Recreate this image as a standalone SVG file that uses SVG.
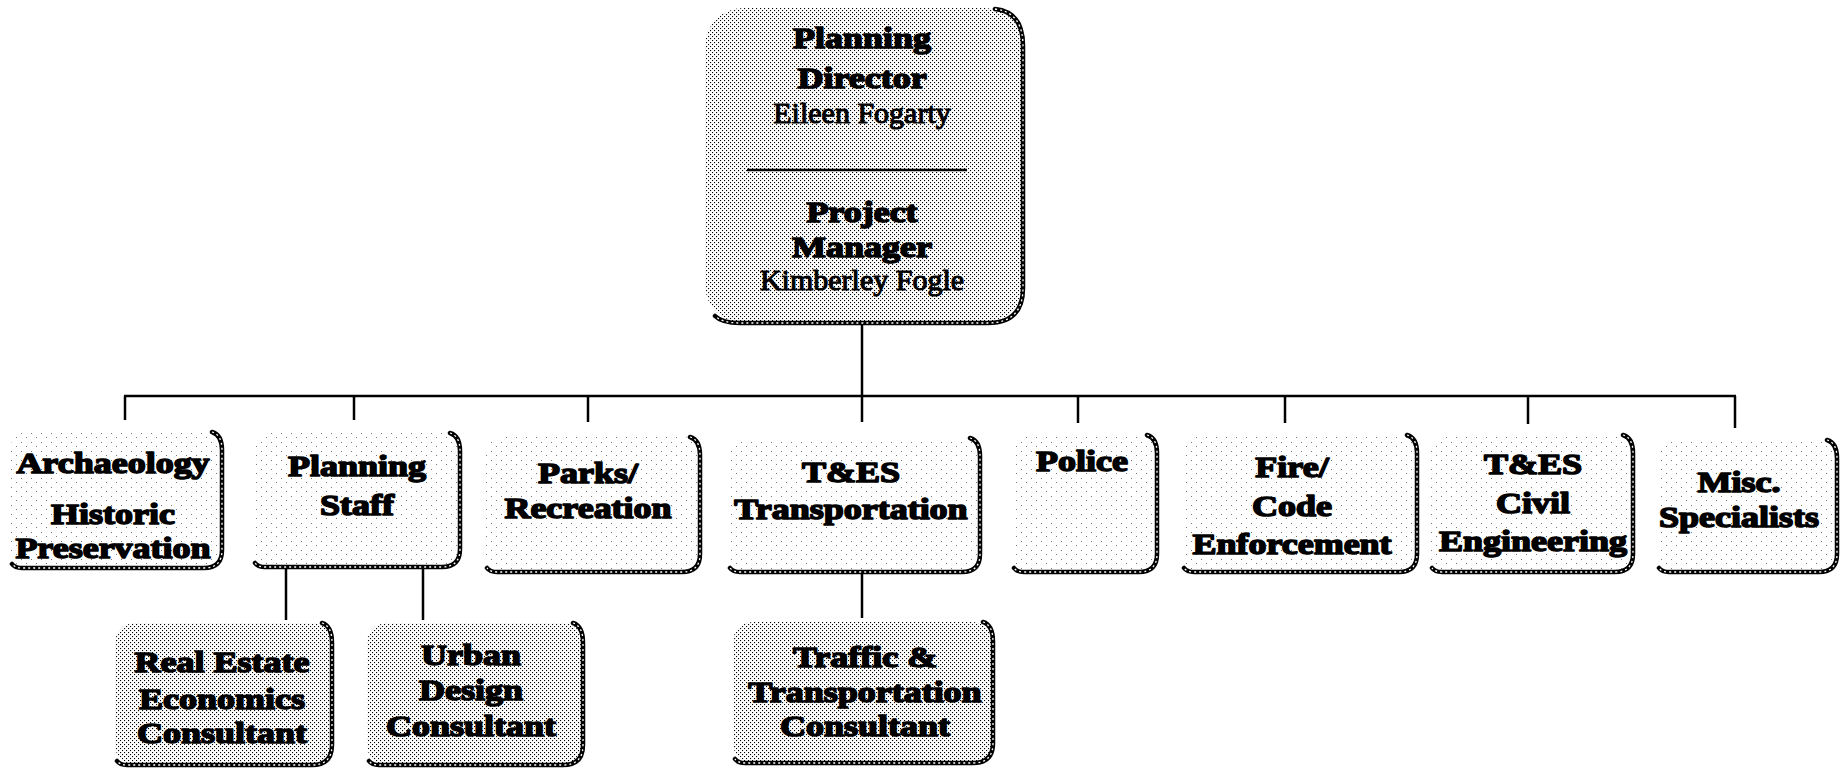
<svg xmlns="http://www.w3.org/2000/svg" width="1843" height="770" viewBox="0 0 1843 770">
<defs>
<pattern id="dense" width="4" height="4" patternUnits="userSpaceOnUse"><rect width="4" height="4" fill="#fff"/><rect x="0" y="0" width="1.1" height="1.1" fill="#000"/><rect x="2" y="2" width="1.1" height="1.1" fill="#000"/></pattern>
<pattern id="sparse" width="10" height="9" patternUnits="userSpaceOnUse"><rect width="10" height="9" fill="#fff"/><rect x="1" y="1" width="1" height="1" fill="#777"/><rect x="6" y="5" width="1" height="1" fill="#777"/></pattern>
<style>
.fd{fill:url(#dense)}
.fs{fill:url(#sparse)}
.sh{fill:none;stroke:#000;stroke-width:4.5;stroke-linecap:round}
.shw{fill:none;stroke:#fff;stroke-width:1.3;stroke-dasharray:2 3}
.c{fill:none;stroke:#000;stroke-width:2.5}
.b{font-family:"Liberation Serif","Times New Roman",serif;font-weight:bold;font-size:30px;text-anchor:middle;fill:#000;stroke:#000;stroke-width:1.6;stroke-linejoin:round}
.r{font-family:"Liberation Serif","Times New Roman",serif;font-size:30px;text-anchor:middle;fill:#000;stroke:#000;stroke-width:1.1;stroke-linejoin:round}
</style>
</defs>
<rect width="1843" height="770" fill="#fff"/>

<g id="connectors">
<line class="c" x1="862" y1="323" x2="862" y2="422"/>
<line class="c" x1="124" y1="396" x2="1736" y2="396"/>
<line class="c" x1="125" y1="396" x2="125" y2="420"/>
<line class="c" x1="354" y1="396" x2="354" y2="420"/>
<line class="c" x1="588" y1="396" x2="588" y2="422"/>
<line class="c" x1="1078" y1="396" x2="1078" y2="423"/>
<line class="c" x1="1285" y1="396" x2="1285" y2="423"/>
<line class="c" x1="1528" y1="396" x2="1528" y2="424"/>
<line class="c" x1="1735" y1="396" x2="1735" y2="428"/>
<line class="c" x1="286" y1="567" x2="286" y2="620"/>
<line class="c" x1="423" y1="567" x2="423" y2="620"/>
<line class="c" x1="862" y1="572" x2="862" y2="618"/>
</g>

<g id="director">
<rect class="fd" x="705" y="8" width="318" height="315" rx="38"/>
<path class="sh" d="M995 9 Q1023 12 1023 46 L1023 288 Q1023 323 988 323 L740 323 Q722 323 715 316"/>
<path class="shw" d="M995 9 Q1023 12 1023 46 L1023 288 Q1023 323 988 323 L740 323 Q722 323 715 316"/>
<g transform="translate(862 0) scale(1.2 1)">
<text class="b" x="0" y="48">Planning</text>
<text class="b" x="0" y="88">Director</text>
<text class="b" x="0" y="222">Project</text>
<text class="b" x="0" y="257">Manager</text>
</g>
<text class="r" x="862" y="123">Eileen Fogarty</text>
<line x1="747" y1="170" x2="967" y2="170" stroke="#000" stroke-width="2.5"/>
<text class="r" x="862" y="290">Kimberley Fogle</text>
</g>

<g id="archaeology">
<rect class="fs" x="10" y="432" width="212" height="136" rx="18"/>
<path class="sh" d="M212 432 Q222 435 222 450 L222 550 Q222 568 204 568 L22 568 Q15 568 12 564"/>
<path class="shw" d="M212 432 Q222 435 222 450 L222 550 Q222 568 204 568 L22 568 Q15 568 12 564"/>
<g transform="translate(113 0) scale(1.2 1)">
<text class="b" x="0" y="473">Archaeology</text>
<text class="b" x="0" y="524">Historic</text>
<text class="b" x="0" y="558">Preservation</text>
</g>
</g>

<g id="planning-staff">
<rect class="fs" x="253" y="433" width="207" height="134" rx="18"/>
<path class="sh" d="M450 433 Q460 436 460 451 L460 549 Q460 567 442 567 L265 567 Q258 567 255 563"/>
<path class="shw" d="M450 433 Q460 436 460 451 L460 549 Q460 567 442 567 L265 567 Q258 567 255 563"/>
<g transform="translate(357 0) scale(1.2 1)">
<text class="b" x="0" y="476">Planning</text>
<text class="b" x="0" y="515">Staff</text>
</g>
</g>

<g id="parks">
<rect class="fs" x="485" y="437" width="215" height="135" rx="18"/>
<path class="sh" d="M690 437 Q700 440 700 455 L700 554 Q700 572 682 572 L497 572 Q490 572 487 568"/>
<path class="shw" d="M690 437 Q700 440 700 455 L700 554 Q700 572 682 572 L497 572 Q490 572 487 568"/>
<g transform="translate(588 0) scale(1.2 1)">
<text class="b" x="0" y="483">Parks/</text>
<text class="b" x="0" y="518">Recreation</text>
</g>
</g>

<g id="tes-transportation">
<rect class="fs" x="728" y="438" width="252" height="134" rx="18"/>
<path class="sh" d="M970 438 Q980 441 980 456 L980 554 Q980 572 962 572 L740 572 Q733 572 730 568"/>
<path class="shw" d="M970 438 Q980 441 980 456 L980 554 Q980 572 962 572 L740 572 Q733 572 730 568"/>
<g transform="translate(851 0) scale(1.2 1)">
<text class="b" x="0" y="482">T&amp;ES</text>
<text class="b" x="0" y="519">Transportation</text>
</g>
</g>

<g id="police">
<rect class="fs" x="1012" y="435" width="145" height="137" rx="18"/>
<path class="sh" d="M1147 435 Q1157 438 1157 453 L1157 554 Q1157 572 1139 572 L1024 572 Q1017 572 1014 568"/>
<path class="shw" d="M1147 435 Q1157 438 1157 453 L1157 554 Q1157 572 1139 572 L1024 572 Q1017 572 1014 568"/>
<g transform="translate(1082 0) scale(1.2 1)">
<text class="b" x="0" y="471">Police</text>
</g>
</g>

<g id="fire">
<rect class="fs" x="1182" y="435" width="235" height="137" rx="18"/>
<path class="sh" d="M1407 435 Q1417 438 1417 453 L1417 554 Q1417 572 1399 572 L1194 572 Q1187 572 1184 568"/>
<path class="shw" d="M1407 435 Q1417 438 1417 453 L1417 554 Q1417 572 1399 572 L1194 572 Q1187 572 1184 568"/>
<g transform="translate(1292 0) scale(1.2 1)">
<text class="b" x="0" y="477">Fire/</text>
<text class="b" x="0" y="516">Code</text>
<text class="b" x="0" y="554">Enforcement</text>
</g>
</g>

<g id="tes-civil">
<rect class="fs" x="1430" y="435" width="203" height="137" rx="18"/>
<path class="sh" d="M1623 435 Q1633 438 1633 453 L1633 554 Q1633 572 1615 572 L1442 572 Q1435 572 1432 568"/>
<path class="shw" d="M1623 435 Q1633 438 1633 453 L1633 554 Q1633 572 1615 572 L1442 572 Q1435 572 1432 568"/>
<g transform="translate(1533 0) scale(1.2 1)">
<text class="b" x="0" y="474">T&amp;ES</text>
<text class="b" x="0" y="513">Civil</text>
<text class="b" x="0" y="551">Engineering</text>
</g>
</g>

<g id="misc">
<rect class="fs" x="1657" y="440" width="180" height="132" rx="18"/>
<path class="sh" d="M1827 440 Q1837 443 1837 458 L1837 554 Q1837 572 1819 572 L1669 572 Q1662 572 1659 568"/>
<path class="shw" d="M1827 440 Q1837 443 1837 458 L1837 554 Q1837 572 1819 572 L1669 572 Q1662 572 1659 568"/>
<g transform="translate(1739 0) scale(1.2 1)">
<text class="b" x="0" y="492">Misc.</text>
<text class="b" x="0" y="527">Specialists</text>
</g>
</g>

<g id="real-estate">
<rect class="fd" x="115" y="623" width="217" height="142" rx="20"/>
<path class="sh" d="M322 623 Q332 626 332 643 L332 745 Q332 765 312 765 L127 765 Q120 765 117 761"/>
<path class="shw" d="M322 623 Q332 626 332 643 L332 745 Q332 765 312 765 L127 765 Q120 765 117 761"/>
<g transform="translate(222 0) scale(1.2 1)">
<text class="b" x="0" y="672">Real Estate</text>
<text class="b" x="0" y="709">Economics</text>
<text class="b" x="0" y="743">Consultant</text>
</g>
</g>

<g id="urban-design">
<rect class="fd" x="367" y="623" width="216" height="142" rx="20"/>
<path class="sh" d="M573 623 Q583 626 583 643 L583 745 Q583 765 563 765 L379 765 Q372 765 369 761"/>
<path class="shw" d="M573 623 Q583 626 583 643 L583 745 Q583 765 563 765 L379 765 Q372 765 369 761"/>
<g transform="translate(471 0) scale(1.2 1)">
<text class="b" x="0" y="665">Urban</text>
<text class="b" x="0" y="700">Design</text>
<text class="b" x="0" y="736">Consultant</text>
</g>
</g>

<g id="traffic">
<rect class="fd" x="733" y="622" width="260" height="141" rx="20"/>
<path class="sh" d="M983 622 Q993 625 993 642 L993 743 Q993 763 973 763 L745 763 Q738 763 735 759"/>
<path class="shw" d="M983 622 Q993 625 993 642 L993 743 Q993 763 973 763 L745 763 Q738 763 735 759"/>
<g transform="translate(865 0) scale(1.2 1)">
<text class="b" x="0" y="667">Traffic &amp;</text>
<text class="b" x="0" y="702">Transportation</text>
<text class="b" x="0" y="736">Consultant</text>
</g>
</g>
</svg>
